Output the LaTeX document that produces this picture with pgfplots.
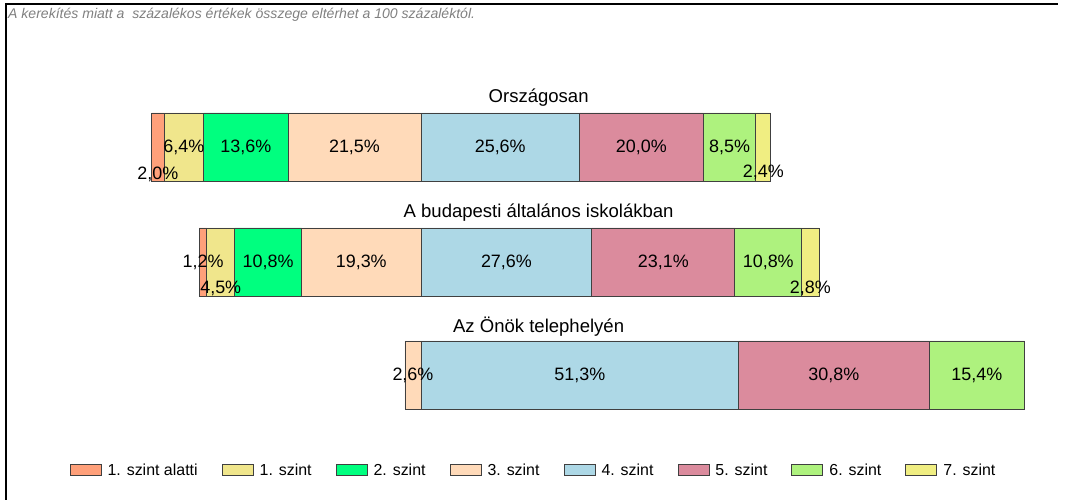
\documentclass[border=0pt]{standalone}
\usepackage{fontspec}
\setmainfont{Liberation Sans}
\usepackage{pgfplots}
\pgfplotsset{compat=1.18}
\definecolor{cA}{HTML}{FFA07A}
\definecolor{cB}{HTML}{F0E68C}
\definecolor{cC}{HTML}{00FF7F}
\definecolor{cD}{HTML}{FFDAB9}
\definecolor{cE}{HTML}{ADD8E6}
\definecolor{cF}{HTML}{DB8B9D}
\definecolor{cG}{HTML}{AEF27E}
\definecolor{cH}{HTML}{F0EE82}
\definecolor{edge}{HTML}{404040}
\pgfplotsset{
  base/.style={scale only axis, width=1071bp, height=500bp,
    xmin=-0.013, xmax=173.008, ymin=0, ymax=500, hide axis,
    at={(0,0)}, anchor=south west, clip=false},
  lg/.style={legend image code/.code={\draw[##1,draw=edge,line width=1bp] (0bp,-5.5bp) rectangle (31bp,5.5bp);}},
  seg/.style={fill=#1, draw=edge, line width=0.8bp, lg},
}
\begin{document}
\begin{tikzpicture}
\path[use as bounding box] (0,0) rectangle (1071bp,500bp);
\draw[line width=1.6bp] (6bp,0bp) -- (6bp,496bp) -- (1058bp,496bp);
\node[anchor=west, text=gray, font=\fontsize{14.1}{16}\selectfont\itshape, inner sep=0pt] at (8bp,485bp)
  {A kerekítés miatt a\ \ százalékos értékek összege eltérhet a 100 százaléktól.};
\begin{axis}[base, xbar stacked, bar width=68bp,
  legend columns=8,
  legend style={at={(533.5/1071,30/500)}, anchor=center, draw=none, fill=none,
    font=\fontsize{16}{18}\selectfont, inner sep=0pt,
    /tikz/every even column/.append style={column sep=22bp},
    /tikz/every odd column/.append style={column sep=4bp}},
  legend cell align=left]
% invisible offset: distance from the left edge to the start of each bar
\addplot[draw=none, fill=none, forget plot] coordinates {(24.5,353) (32.2,238) (65.4,125)};
\addplot[seg=cA] coordinates {(2.0,353) (1.2,238) (0,125)};
\addplot[seg=cB] coordinates {(6.4,353) (4.5,238) (0,125)};
\addplot[seg=cC] coordinates {(13.6,353) (10.8,238) (0,125)};
\addplot[seg=cD] coordinates {(21.5,353) (19.3,238) (2.6,125)};
\addplot[seg=cE] coordinates {(25.6,353) (27.6,238) (51.3,125)};
\addplot[seg=cF] coordinates {(20.0,353) (23.1,238) (30.8,125)};
\addplot[seg=cG] coordinates {(8.5,353) (10.8,238) (15.4,125)};
\addplot[seg=cH] coordinates {(2.4,353) (2.8,238) (0,125)};
\legend{1. szint alatti, 1. szint, 2. szint, 3. szint, 4. szint, 5. szint, 6. szint, 7. szint}
\end{axis}
\begin{axis}[base]
\addplot[only marks, mark=none, point meta=explicit,
  nodes near coords={\pgfmathprintnumber[fixed, fixed zerofill, precision=1, use comma, assume math mode=true]{\pgfplotspointmeta}\%},
  nodes near coords align=center,
  every node near coord/.append style={font=\fontsize{18}{20}\selectfont, inner sep=0pt}]
table[x=x, y=y, meta=v] {
x y v
25.5 326 2.0
29.7 353 6.4
39.7 353 13.6
57.25 353 21.5
80.8 353 25.6
103.6 353 20.0
117.85 353 8.5
123.3 328 2.4
32.8 238 1.2
35.65 212 4.5
43.3 238 10.8
58.35 238 19.3
81.8 238 27.6
107.15 238 23.1
124.1 238 10.8
130.9 212 2.8
66.7 125 2.6
93.65 125 51.3
134.7 125 30.8
157.8 125 15.4
};
\addplot[only marks, mark=none, point meta=explicit symbolic,
  nodes near coords={\pgfplotspointmeta},
  nodes near coords align=center,
  every node near coord/.append style={font=\fontsize{18.6}{21}\selectfont, inner sep=0pt}]
table[x=x, y=y, meta=t, col sep=semicolon] {
x;y;t
87.0;402;Országosan
87.0;287;A budapesti általános iskolákban
87.0;173;Az Önök telephelyén
};
\end{axis}
\end{tikzpicture}
\end{document}
